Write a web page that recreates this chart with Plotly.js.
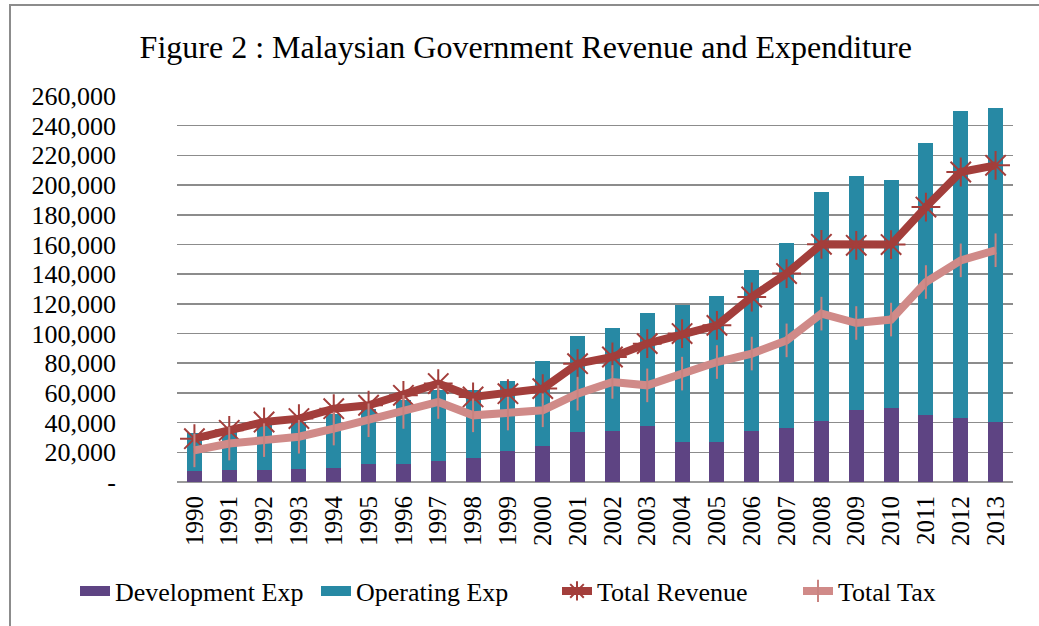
<!DOCTYPE html>
<html>
<head>
<meta charset="utf-8">
<script src="https://cdn.plot.ly/plotly-3.0.1.min.js"></script>
<style>html,body{margin:0;padding:0;background:#fff;}#chart{width:1039px;height:626px;}</style>
</head>
<body>
<div id="chart"></div>
<script>
var years = ["1990","1991","1992","1993","1994","1995","1996","1997","1998","1999","2000","2001","2002","2003","2004","2005","2006","2007","2008","2009","2010","2011","2012","2013"];
var developmentExp = [7200,7900,8000,8500,9700,11900,11900,13900,16400,20700,24300,33700,34200,37700,26900,26900,34200,36600,40900,48300,50100,44900,43400,40400];
var operatingExp = [25800,27600,30500,32000,36300,37600,43100,47900,45600,47100,57000,64400,69300,75900,92100,98200,108400,124200,154200,157600,153100,183500,206300,211300];
var totalRevenue = [29200,34800,40400,42700,49400,51700,58400,66300,57300,59500,62900,79700,84200,93200,100000,105500,124600,140400,160100,159400,159900,185200,208800,213300];
var totalTax = [21300,25900,28200,30500,36000,41600,47200,53900,44900,46100,48300,59500,67400,65100,73000,80800,86500,95400,113400,107100,109400,134700,149300,156100];
var yTickVals = [0,20000,40000,60000,80000,100000,120000,140000,160000,180000,200000,220000,240000,260000];
var yTickText = ["-","20,000","40,000","60,000","80,000","100,000","120,000","140,000","160,000","180,000","200,000","220,000","240,000","260,000"];

var serif = "Liberation Serif, Times New Roman, serif";
var devColor = "#5e4483", opColor = "#2789a4";
var traces = [
  {type:"bar", name:"Development Exp", x:years, y:developmentExp,
   marker:{color:devColor}, showlegend:false, legendgroup:"dev"},
  {type:"bar", name:"Operating Exp", x:years, y:operatingExp,
   marker:{color:opColor}, showlegend:false, legendgroup:"op"},
  {type:"scatter", mode:"lines", name:"Development Exp", x:[null], y:[null],
   line:{color:devColor, width:13}, legendgroup:"dev", hoverinfo:"skip"},
  {type:"scatter", mode:"lines", name:"Operating Exp", x:[null], y:[null],
   line:{color:opColor, width:13}, legendgroup:"op", hoverinfo:"skip"},
  {type:"scatter", mode:"lines+markers", name:"Total Revenue", x:years, y:totalRevenue,
   line:{color:"#a33e3b", width:8},
   marker:{symbol:"asterisk-open", size:24, color:"#a33e3b", line:{color:"#a33e3b", width:2}},
   cliponaxis:false},
  {type:"scatter", mode:"lines+markers", name:"Total Tax", x:years, y:totalTax,
   line:{color:"#d08a88", width:8},
   marker:{symbol:"line-ns-open", size:24, color:"#c98380", line:{color:"#c98380", width:2}},
   cliponaxis:false}
];

var pw = 1039-177-26, ph = 482-96;
function px(v){return (v-177)/pw;}
function py(v){return (482-v)/ph;}

var layout = {
  width:1039, height:626,
  margin:{l:177, r:26, t:96, b:144},
  paper_bgcolor:"#ffffff", plot_bgcolor:"#ffffff",
  barmode:"stack", bargap:0.57,
  font:{family:serif, color:"#000", size:26},
  title:{text:"Figure 2 : Malaysian Government Revenue and Expenditure",
         font:{family:serif, size:32, color:"#000"},
         x:0.506, xref:"container", xanchor:"center", y:0.926, yref:"container", yanchor:"middle"},
  xaxis:{type:"category", range:[-0.5, 23.5], autorange:false, tickangle:-90,
         tickfont:{family:serif, size:25, color:"#000"},
         showgrid:false, showline:false, ticks:"", ticklabelstandoff:8},
  yaxis:{range:[0,260000], autorange:false, tickvals:yTickVals, ticktext:yTickText,
         tickfont:{family:serif, size:26, color:"#000"},
         showgrid:true, gridcolor:"#8c8c8c", gridwidth:1.5,
         zeroline:true, zerolinecolor:"#9a9a9a", zerolinewidth:1.5,
         showline:false, ticks:"", ticklabelstandoff:60},
  showlegend:true,
  legend:{orientation:"h", x:px(76), xanchor:"left", y:py(591), yanchor:"middle",
          font:{family:serif, size:26, color:"#000"}, traceorder:"normal",
          itemwidth:30, entrywidth:196, entrywidthmode:"pixels", bgcolor:"rgba(0,0,0,0)"},
  shapes:[
    {type:"path", xref:"paper", yref:"paper",
     path:"M "+px(10)+" "+py(630)+" L "+px(10)+" "+py(5)+" L "+px(1045)+" "+py(5),
     line:{color:"#8c8c8c", width:2}}
  ]
};

Plotly.newPlot("chart", traces, layout, {displayModeBar:false, staticPlot:true});
</script>
</body>
</html>
